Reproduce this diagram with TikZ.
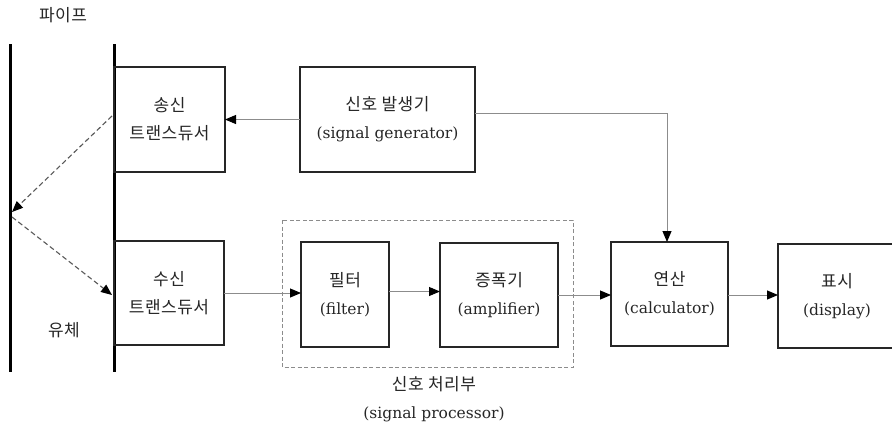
\documentclass[tikz,border=0pt]{standalone}
\usepackage{fontspec}
\setmainfont{DejaVu Serif}
\newfontfamily\krfont{Noto Sans CJK KR}[LetterSpace=3]
\newcommand\hk[1]{{\fontsize{17}{28}\krfont #1}}
\usetikzlibrary{arrows.meta}

\tikzset{
  blockbox/.style={draw=black!85, line width=1.8pt, inner sep=0pt, outer sep=0pt,
    align=center, text=black!85, font=\fontsize{15.5}{28}\selectfont},
  flow/.style={draw=black!45, line width=1pt,
    -{Triangle[length=11pt,width=9pt,color=black]}},
  wave/.style={draw=black!65, line width=1.1pt, dash pattern=on 5pt off 3pt,
    -{Triangle[length=11pt,width=9pt,color=black]}},
  wall/.style={draw=black, line width=3pt},
  groupbox/.style={draw=black!45, line width=1pt, dash pattern=on 4pt off 2.5pt},
  caption/.style={text=black!85, font=\fontsize{15.5}{28}\selectfont, align=center}
}

\begin{document}
\begin{tikzpicture}[x=1pt, y=-1pt]
  \clip (0,0) rectangle (892,426);
  \fill[white] (0,0) rectangle (892,426);

  % pipe walls
  \draw[wall] (10,44) -- (10,372);
  \draw[wall] (114,44) -- (114,372);
  \node[caption] (pipe) at (63,15) {\hk{파이프}};
  \node[caption] (fluid) at (64,330) {\hk{유체}};

  % blocks
  \node[blockbox, minimum width=111pt, minimum height=105pt] (tx) at (169.5,119.5)
    {\hk{송신}\\\hk{트랜스듀서}};
  \node[blockbox, minimum width=110pt, minimum height=104pt] (rx) at (169,293)
    {\hk{수신}\\\hk{트랜스듀서}};
  \node[blockbox, minimum width=175pt, minimum height=105pt] (gen) at (387.5,119.5)
    {\hk{신호 발생기}\\(signal generator)};
  \node[blockbox, minimum width=88pt, minimum height=105pt] (filt) at (345,294.5)
    {\hk{필터}\\(filter)};
  \node[blockbox, minimum width=118pt, minimum height=104pt] (amp) at (499,295)
    {\hk{증폭기}\\(amplifier)};
  \node[blockbox, minimum width=117pt, minimum height=104pt] (calc) at (669.5,294)
    {\hk{연산}\\(calculator)};
  \node[blockbox, minimum width=118pt, minimum height=104pt] (disp) at (837,296)
    {\hk{표시}\\(display)};

  % signal processor group
  \draw[groupbox] (282,220) rectangle (573,367);
  \node[caption] (proc) at (434,399) {\hk{신호 처리부}\\(signal processor)};

  % ultrasonic path through the fluid
  \coordinate (emit) at (112,116);
  \coordinate (bounce) at (12,212);
  \coordinate (reflect) at (12,217);
  \coordinate (recv) at (112,295);
  \draw[wave] (emit) -- (bounce);
  \draw[wave] (reflect) -- (recv);

  % signal connectors
  \draw[flow] (gen.west) -- (tx.east);
  \draw[flow] ([yshift=6.5pt]gen.east) -| ([xshift=-2.5pt]calc.north);
  \draw[flow] (rx.east) -- (rx.east -| filt.west);
  \draw[flow] ([yshift=3pt]filt.east) -- ([yshift=3pt]filt.east -| amp.west);
  \draw[flow] (amp.east) -- (amp.east -| calc.west);
  \draw[flow] ([yshift=-1pt]calc.east) -- ([yshift=-1pt]calc.east -| disp.west);
\end{tikzpicture}
\end{document}
